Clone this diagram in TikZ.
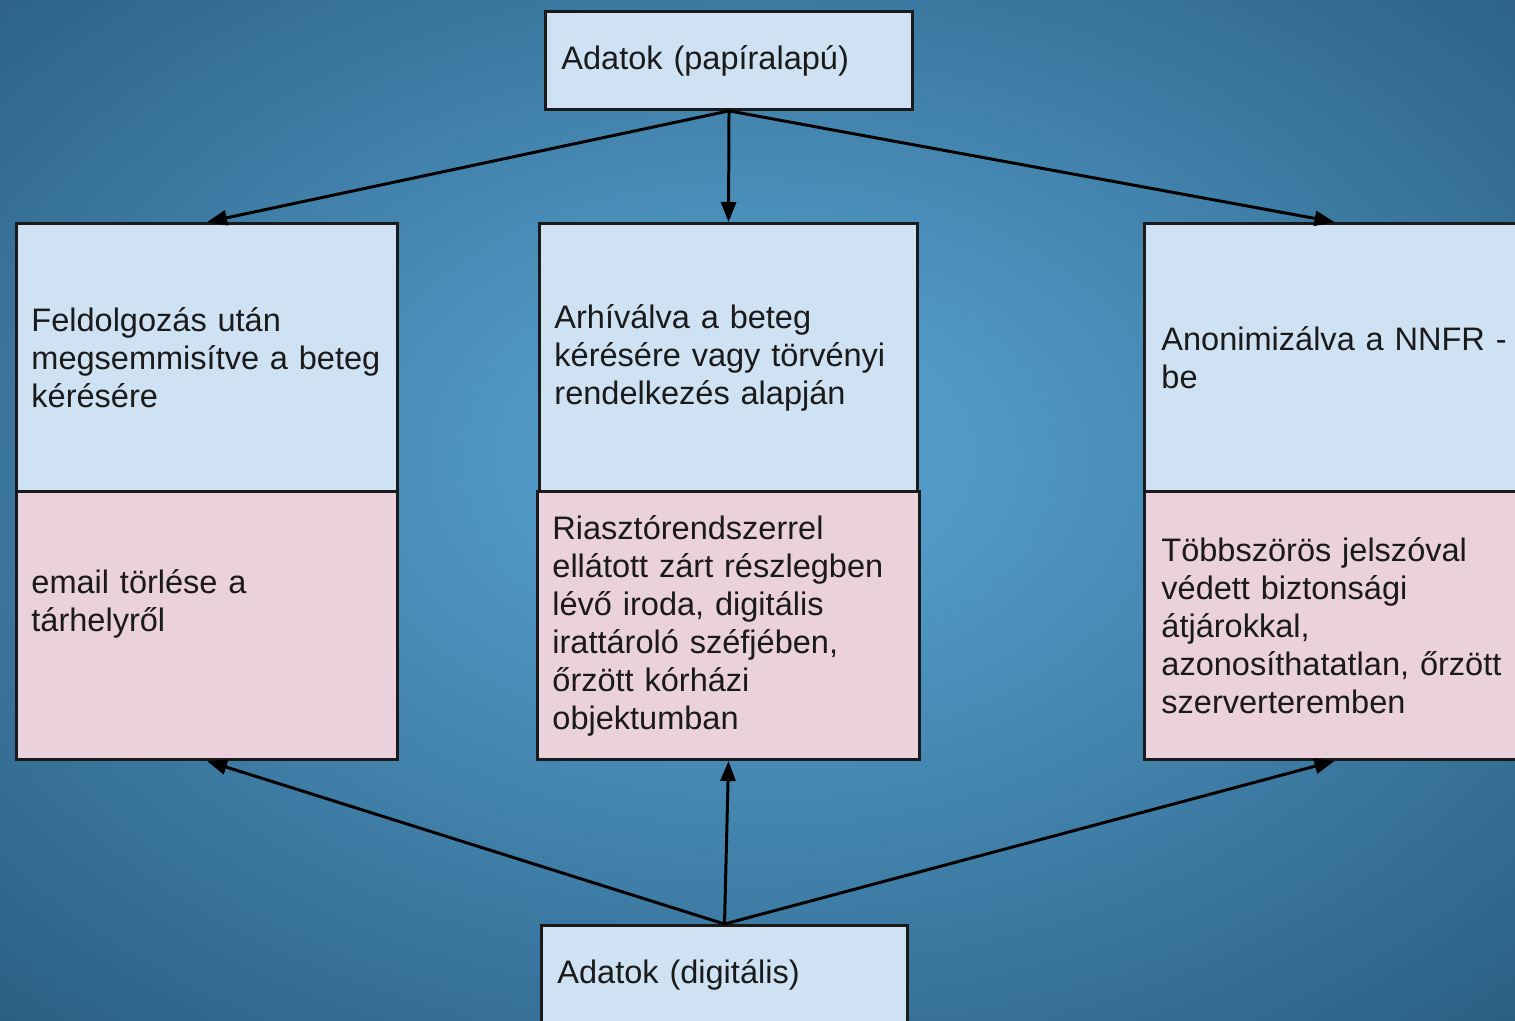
\documentclass[tikz,border=0pt]{standalone}
\usepackage{fontspec}
\setmainfont{Liberation Sans}
\usetikzlibrary{arrows.meta}
\definecolor{bgin}{RGB}{82,155,200}
\definecolor{bgout}{RGB}{42,94,130}
\definecolor{boxblue}{HTML}{CFE2F3}
\definecolor{boxpink}{HTML}{EAD1DC}
\definecolor{ink}{HTML}{1A1A1A}
\pgfdeclareradialshading{bgshade}{\pgfpoint{0bp}{3bp}}{color(0bp)=(bgin); color(6bp)=(bgin); color(37bp)=(bgout); color(60bp)=(bgout)}
\begin{document}
\begin{tikzpicture}[x=0.01cm,y=-0.01cm,
  box/.style={draw=ink, line width=0.8pt, anchor=north west, align=left, text=ink,
    inner xsep=0.15cm, inner ysep=0pt, font=\fontsize{9.25pt}{10.8pt}\selectfont},
  bluebox/.style={box, fill=boxblue},
  pinkbox/.style={box, fill=boxpink},
  arr/.style={draw=black, line width=0.85pt, -{Triangle[length=0.2cm,width=0.15cm]}}]
\useasboundingbox (0,0) rectangle (1515,1020);
\clip (0,0) rectangle (1515,1020);
\shade[shading=bgshade] (0,0) rectangle (1515,1020);

% top and bottom source boxes
\node[bluebox, inner xsep=0.16cm, text width=3.35cm, minimum height=0.98cm] (top) at (544,10) {Adatok (papíralapú)};
\node[bluebox, inner xsep=0.16cm, text width=3.34cm, minimum height=0.98cm] (bot) at (540,924) {Adatok (digitális)};

% left column
\node[bluebox, text width=3.51cm, minimum height=2.68cm] (lb) at (15,222) {Feldolgozás után\\\mbox{megsemmisítve a beteg}\\kérésére};
\node[pinkbox, text width=3.51cm, minimum height=2.68cm] (lp) at (15,490) {email törlése a\\tárhelyről\\\strut};

% middle column
\node[bluebox, text width=3.48cm, minimum height=2.68cm] (mb) at (538,222) {Arhíválva a beteg\\\mbox{kérésére vagy törvényi}\\rendelkezés alapján};
\node[pinkbox, text width=3.52cm, minimum height=2.68cm] (mp) at (536,490) {Riasztórendszerrel\\\mbox{ellátott zárt részlegben}\\lévő iroda, digitális\\irattároló széfjében,\\őrzött kórházi\\objektumban};

% right column
\node[bluebox, inner xsep=0.17cm, text width=3.46cm, minimum height=2.68cm] (rb) at (1143,222) {\mbox{Anonimizálva a NNFR -}\\be};
\node[pinkbox, inner xsep=0.17cm, text width=3.46cm, minimum height=2.68cm] (rp) at (1143,490) {Többszörös jelszóval\\védett biztonsági\\átjárokkal,\\\mbox{azonosíthatatlan, őrzött}\\szerverteremben};

% connectors
\draw[arr] (top.south) -- (lb.north);
\draw[arr] (top.south) -- (mb.north);
\draw[arr] (top.south) -- (rb.north);
\draw[arr] (bot.north) -- (lp.south);
\draw[arr] (bot.north) -- (mp.south);
\draw[arr] (bot.north) -- (rp.south);
\end{tikzpicture}
\end{document}
